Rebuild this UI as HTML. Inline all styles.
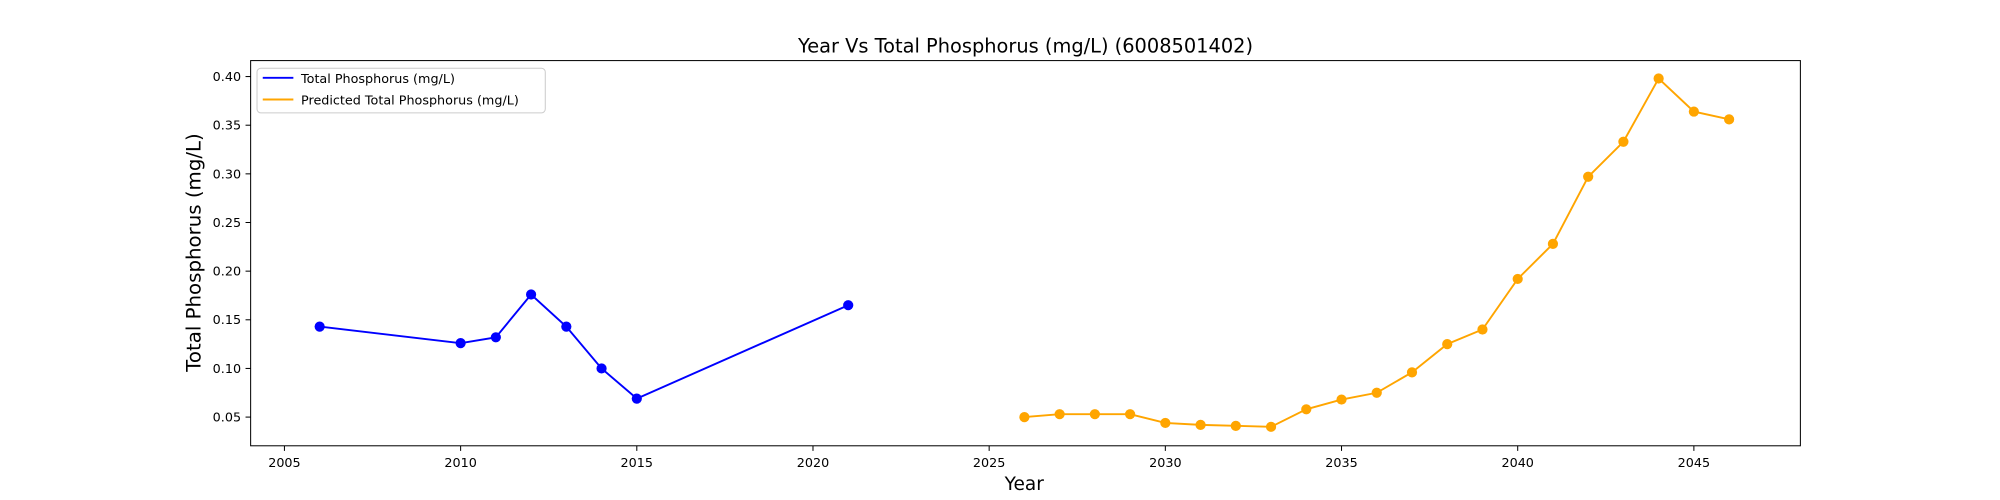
<!DOCTYPE html>
<html><head><meta charset="utf-8">
<style>
body{margin:0;background:#fff;}
svg{display:block;font-family:"DejaVu Sans","Liberation Sans",sans-serif;}
</style></head>
<body>
<svg id="chart" width="2000" height="500" viewBox="0 0 1568 392">
<rect x="0" y="0" width="1568" height="392" fill="#fff"/>
<text x="804" y="41" text-anchor="middle" font-size="15.2">Year Vs Total Phosphorus (mg/L) (6008501402)</text>
<text x="803" y="384" text-anchor="middle" font-size="14.5">Year</text>
<text transform="translate(157,198) rotate(-90)" text-anchor="middle" font-size="15.5">Total Phosphorus (mg/L)</text>
<g id="xticks"></g><g id="yticks"></g>
<g id="series"></g>
<rect x="196.5" y="47.5" width="1215" height="302" fill="none" stroke="#000" stroke-width="0.8"/>
<g>
<rect x="201.5" y="53.5" width="226" height="35" rx="3" fill="#fff" stroke="#ccc" stroke-width="0.8"/>
<line x1="206" y1="61" x2="230" y2="61" stroke="#0000ff" stroke-width="1.5"/>
<text x="236" y="65" font-size="10">Total Phosphorus (mg/L)</text>
<line x1="206" y1="78" x2="230" y2="78" stroke="#ffa500" stroke-width="1.5"/>
<text x="236" y="82" font-size="10">Predicted Total Phosphorus (mg/L)</text>
</g>
</svg>
<script>
const actualYears=[2006,2010,2011,2012,2013,2014,2015,2021];
const actualValues=[0.143,0.126,0.132,0.176,0.143,0.100,0.069,0.165];
const predYears=[2026,2027,2028,2029,2030,2031,2032,2033,2034,2035,2036,2037,2038,2039,2040,2041,2042,2043,2044,2045,2046];
const predValues=[0.050,0.053,0.053,0.053,0.044,0.042,0.041,0.040,0.058,0.068,0.075,0.096,0.125,0.140,0.192,0.228,0.297,0.333,0.398,0.364,0.356];
const xTickLabels=[2005,2010,2015,2020,2025,2030,2035,2040,2045];
const yTickLabels=[0.05,0.10,0.15,0.20,0.25,0.30,0.35,0.40];
const NS="http://www.w3.org/2000/svg";
function xs(v){return 223+(v-2005)*27.625;}
function ys(v){return 327-(v-0.05)/0.05*38.14;}
function mk(t,a,p){const e=document.createElementNS(NS,t);for(const k in a)e.setAttribute(k,a[k]);p.appendChild(e);return e;}
const xt=document.getElementById('xticks'),yt=document.getElementById('yticks'),sg=document.getElementById('series');
xTickLabels.forEach(v=>{const x=xs(v);
 const l=mk('line',{x1:x,y1:349.5,x2:x,y2:353.5,stroke:'#000','stroke-width':0.8},xt);
 
 
 const t=mk('text',{x:x,y:366,'text-anchor':'middle','font-size':'10'},xt);t.textContent=v;
 
 
});
yTickLabels.forEach(v=>{const y=ys(v);
 const l=mk('line',{x1:192.5,y1:y,x2:196.5,y2:y,stroke:'#000','stroke-width':0.8},yt);
 
 
 const t=mk('text',{x:189,y:y+3.5,'text-anchor':'end','font-size':'10'},yt);t.textContent=v.toFixed(2);
 
 
});
function series(xsA,vs,color,name){
 const pts=xsA.map((x,i)=>xs(x)+','+ys(vs[i])).join(' ');
 const pl=mk('polyline',{points:pts,fill:'none',stroke:color,'stroke-width':1.5},sg);
 
 
 xsA.forEach((x,i)=>{const c=mk('circle',{cx:xs(x),cy:ys(vs[i]),r:4,fill:color},sg);
  
  
 });
}
series(actualYears,actualValues,'#0000ff','actual');
series(predYears,predValues,'#ffa500','predicted');
</script>
</body></html>
